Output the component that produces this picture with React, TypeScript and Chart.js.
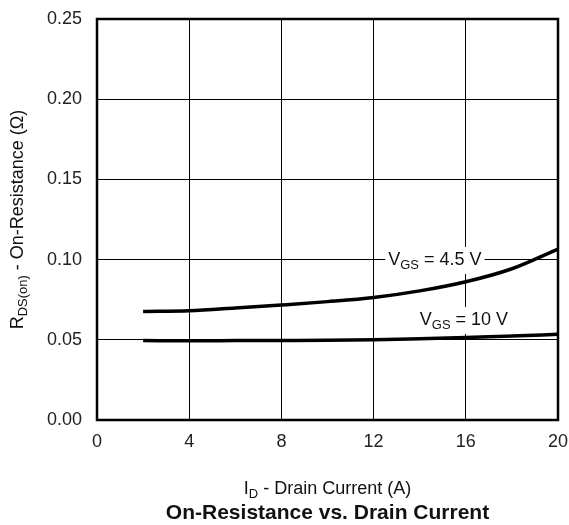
import React, { useEffect, useRef } from "react";
import { Chart, registerables } from "chart.js";

Chart.register(...registerables);

const FONT = "'Liberation Sans', Arial, Helvetica, sans-serif";

// Drain current (A)
const currents = [2, 4, 6, 8, 10, 12, 14, 16, 18, 20];
// R_DS(on) (Ohm) at VGS = 4.5 V
const rdsVgs45 = [0.0676, 0.0681, 0.0698, 0.0717, 0.0738, 0.0764, 0.0805, 0.0862, 0.0943, 0.1066];
// R_DS(on) (Ohm) at VGS = 10 V
const rdsVgs10 = [0.0495, 0.0494, 0.0495, 0.0496, 0.0497, 0.05, 0.0507, 0.0515, 0.0524, 0.0534];

const xMin = 0;
const xMax = 20;
const xStep = 4;
const yMin = 0;
const yMax = 0.25;
const yStep = 0.05;

// curve label anchors (data coords)
const label45 = { x: 14.66, y: 0.0998 };
const label10 = { x: 15.92, y: 0.0623 };

type Part = { t: string; sub?: boolean };

function richWidth(ctx: CanvasRenderingContext2D, parts: Part[], size: number, bold = false) {
  let w = 0;
  for (const p of parts) {
    ctx.font = `${bold ? "bold " : ""}${p.sub ? size * 0.72 : size}px ${FONT}`;
    w += ctx.measureText(p.t).width;
  }
  return w;
}

function drawRich(
  ctx: CanvasRenderingContext2D,
  parts: Part[],
  x: number,
  y: number,
  size: number,
  align: "left" | "center" | "right",
  bold = false
) {
  const w = richWidth(ctx, parts, size, bold);
  let cx = align === "center" ? x - w / 2 : align === "right" ? x - w : x;
  ctx.textAlign = "left";
  ctx.textBaseline = "middle";
  ctx.fillStyle = "#111";
  for (const p of parts) {
    const s = p.sub ? size * 0.72 : size;
    ctx.font = `${bold ? "bold " : ""}${s}px ${FONT}`;
    ctx.fillText(p.t, cx, p.sub ? y + size * 0.3 : y);
    cx += ctx.measureText(p.t).width;
  }
  return w;
}

const overlayPlugin = {
  id: "overlay",
  afterDatasetsDraw(chart: any) {
    const ctx: CanvasRenderingContext2D = chart.ctx;
    const { left, right, top, bottom } = chart.chartArea;
    const xs = chart.scales.x;
    const ys = chart.scales.y;
    ctx.save();

    // curve labels with white background
    const labels: [Part[], { x: number; y: number }][] = [
      [[{ t: "V" }, { t: "GS", sub: true }, { t: " = 4.5 V" }], label45],
      [[{ t: "V" }, { t: "GS", sub: true }, { t: " = 10 V" }], label10],
    ];
    const size = 18;
    for (const [parts, pos] of labels) {
      const px = xs.getPixelForValue(pos.x);
      const py = ys.getPixelForValue(pos.y);
      const w = richWidth(ctx, parts, size);
      ctx.fillStyle = "#fff";
      ctx.fillRect(px - w / 2 - 3, py - 13, w + 6, 27);
      drawRich(ctx, parts, px, py, size, "center");
    }

    // frame
    ctx.strokeStyle = "#000";
    ctx.lineWidth = 2.5;
    ctx.strokeRect(left, top, right - left, bottom - top);

    // axis titles
    const cxPlot = (left + right) / 2;
    drawRich(
      ctx,
      [{ t: "I" }, { t: "D", sub: true }, { t: " - Drain Current (A)" }],
      cxPlot,
      489,
      18,
      "center"
    );
    drawRich(ctx, [{ t: "On-Resistance vs. Drain Current" }], cxPlot, 513, 21, "center", true);

    ctx.translate(18, (top + bottom) / 2);
    ctx.rotate(-Math.PI / 2);
    drawRich(
      ctx,
      [{ t: "R" }, { t: "DS(on)", sub: true }, { t: " - On-Resistance (Ω)" }],
      0,
      0,
      18,
      "center"
    );
    ctx.restore();
  },
};

export default function App() {
  const ref = useRef<HTMLCanvasElement | null>(null);
  useEffect(() => {
    document.body.style.margin = "0";
    const canvas = ref.current!;
    const chart = new Chart(canvas, {
      type: "line",
      data: {
        datasets: [
          {
            label: "VGS = 4.5 V",
            data: currents.map((x, i) => ({ x, y: rdsVgs45[i] })),
            borderColor: "#000",
            borderWidth: 3.5,
            pointRadius: 0,
            cubicInterpolationMode: "monotone",
            fill: false,
          },
          {
            label: "VGS = 10 V",
            data: currents.map((x, i) => ({ x, y: rdsVgs10[i] })),
            borderColor: "#000",
            borderWidth: 3.5,
            pointRadius: 0,
            cubicInterpolationMode: "monotone",
            fill: false,
          },
        ],
      },
      options: {
        animation: false,
        responsive: false,
        layout: { padding: { left: 0, top: 19, right: 11, bottom: 0 } },
        plugins: { legend: { display: false }, tooltip: { enabled: false }, title: { display: false } },
        scales: {
          x: {
            type: "linear",
            min: xMin,
            max: xMax,
            afterFit: (s: any) => {
              s.height = 105;
              s.paddingLeft = 0;
              s.paddingRight = 0;
            },
            grid: { color: "#000", lineWidth: 1, drawTicks: false },
            border: { display: false },
            ticks: {
              stepSize: xStep,
              padding: 11,
              color: "#222",
              font: { family: FONT, size: 18 },
            },
          },
          y: {
            type: "linear",
            min: yMin,
            max: yMax,
            afterFit: (s: any) => {
              s.width = 97;
              s.paddingTop = 0;
              s.paddingBottom = 0;
            },
            grid: { color: "#000", lineWidth: 1, drawTicks: false },
            border: { display: false },
            ticks: {
              stepSize: yStep,
              padding: 15,
              color: "#222",
              font: { family: FONT, size: 18 },
              callback: (v: any) => Number(v).toFixed(2),
            },
          },
        },
      },
      plugins: [overlayPlugin],
    } as any);
    return () => chart.destroy();
  }, []);
  return (
    <div style={{ width: 569, height: 525 }}>
      <canvas ref={ref} width={569} height={525} />
    </div>
  );
}
